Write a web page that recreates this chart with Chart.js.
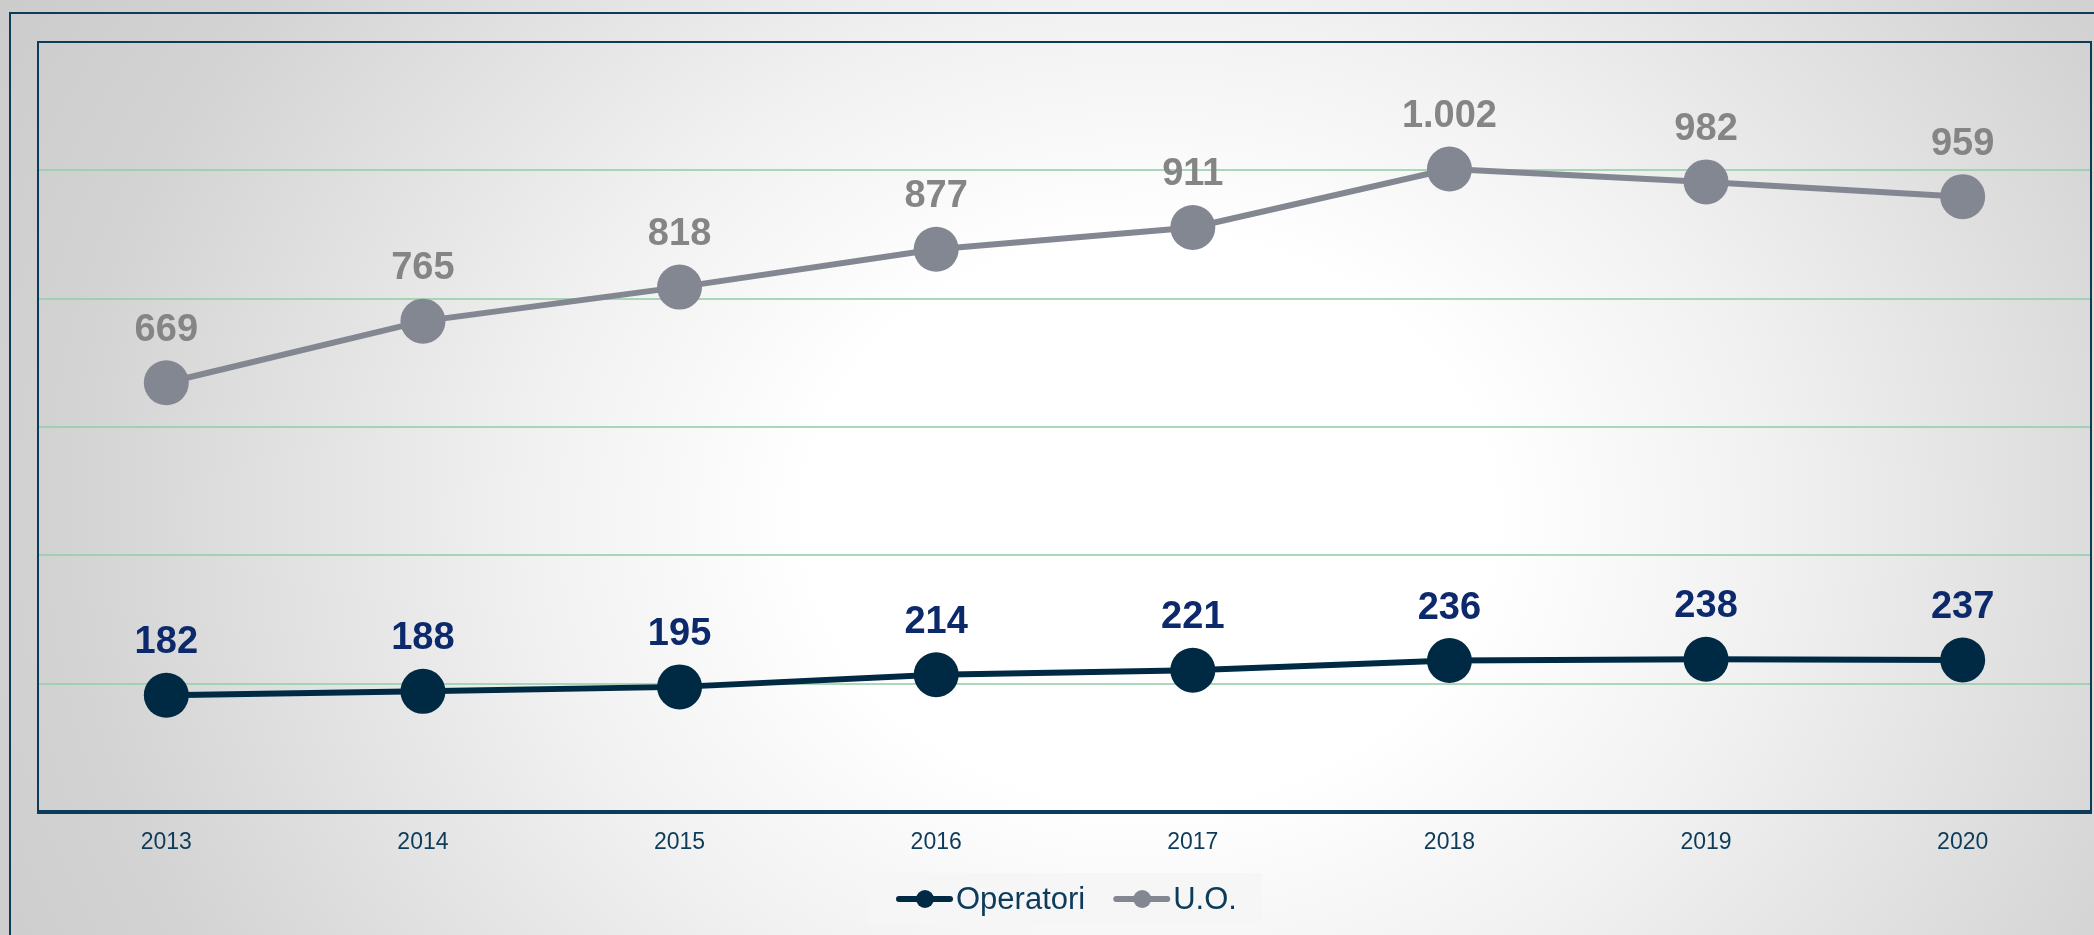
<!DOCTYPE html>
<html>
<head>
<meta charset="utf-8">
<script src="https://cdn.jsdelivr.net/npm/chart.js@4"></script>
<style>
  html, body { margin: 0; padding: 0; background: #ffffff; overflow: hidden; }
  #wrap { width: 2094px; height: 935px; position: relative; }
  canvas { display: block; }
</style>
</head>
<body>
<div id="wrap"><canvas id="chart" width="2094" height="935"></canvas></div>
<script>
const years = ['2013', '2014', '2015', '2016', '2017', '2018', '2019', '2020'];
const operatori = [182, 188, 195, 214, 221, 236, 238, 237];
const uo = [669, 765, 818, 877, 911, 1002, 982, 959];

const navy = '#002a44';
const frameColor = '#0d3b5a';

// numeri con punto delle migliaia (1.002)
function fmt(v) {
    return String(v).replace(/\B(?=(\d{3})+(?!\d))/g, '.');
}

// sfondo sfumato + cornici
const backgroundPlugin = {
    id: 'background',
    beforeDraw(chart) {
        const ctx = chart.ctx;
        const w = chart.width, h = chart.height;
        ctx.save();
        // sfumatura ellittica: centro chiaro, bordi grigi
        const cx = 1150, cy = 520, rx = 1150, ry = 950;
        ctx.save();
        ctx.translate(cx, cy);
        ctx.scale(rx, ry);
        const g = ctx.createRadialGradient(0, 0, 0, 0, 0, 1.35);
        g.addColorStop(0, '#ffffff');
        g.addColorStop(0.22, '#ffffff');
        g.addColorStop(0.40, '#f1f1f1');
        g.addColorStop(0.70, '#d3d3d3');
        g.addColorStop(1, '#c4c4c4');
        ctx.fillStyle = g;
        ctx.fillRect(-cx / rx, -cy / ry, w / rx, h / ry);
        ctx.restore();

        // cornice esterna
        ctx.strokeStyle = frameColor;
        ctx.lineWidth = 2;
        ctx.beginPath();
        ctx.moveTo(10, h + 5);
        ctx.lineTo(10, 13);
        ctx.lineTo(w + 5, 13);
        ctx.stroke();
        ctx.restore();
    },
    afterDraw(chart) {
        const ctx = chart.ctx;
        const a = chart.chartArea;
        ctx.save();
        ctx.strokeStyle = frameColor;
        ctx.lineWidth = 2;
        ctx.beginPath();
        ctx.moveTo(a.left, a.bottom);
        ctx.lineTo(a.left, a.top);
        ctx.lineTo(a.right, a.top);
        ctx.lineTo(a.right, a.bottom);
        ctx.stroke();
        ctx.lineWidth = 4;
        ctx.beginPath();
        ctx.moveTo(a.left - 1, a.bottom);
        ctx.lineTo(a.right + 1, a.bottom);
        ctx.stroke();
        ctx.restore();
    }
};

// etichette sopra i punti
const labelPlugin = {
    id: 'pointLabels',
    afterDatasetsDraw(chart) {
        const ctx = chart.ctx;
        ctx.save();
        ctx.font = 'bold 38px "Liberation Sans", Arial, sans-serif';
        ctx.textAlign = 'center';
        ctx.textBaseline = 'alphabetic';
        chart.data.datasets.forEach((ds, i) => {
            const meta = chart.getDatasetMeta(i);
            ctx.fillStyle = ds.labelColor;
            meta.data.forEach((pt, j) => {
                ctx.fillText(fmt(ds.data[j]), pt.x, pt.y - 42);
            });
        });
        ctx.restore();
    }
};

// legenda disegnata a mano
const legendPlugin = {
    id: 'customLegend',
    afterDraw(chart) {
        const ctx = chart.ctx;
        ctx.save();
        ctx.fillStyle = '#f6f6f6';
        ctx.fillRect(869, 873, 393, 51);
        ctx.font = '31px "Liberation Sans", Arial, sans-serif';
        ctx.textBaseline = 'middle';
        ctx.textAlign = 'left';
        const cy = 899;
        let x = 896;
        chart.data.datasets.forEach(ds => {
            ctx.strokeStyle = ds.borderColor;
            ctx.lineWidth = 6;
            ctx.lineCap = 'round';
            ctx.beginPath();
            ctx.moveTo(x + 3, cy);
            ctx.lineTo(x + 54, cy);
            ctx.stroke();
            ctx.fillStyle = ds.borderColor;
            ctx.beginPath();
            ctx.arc(x + 29, cy, 9, 0, Math.PI * 2);
            ctx.fill();
            ctx.fillStyle = frameColor;
            ctx.fillText(ds.label, x + 60, cy + 1);
            x += 60 + ctx.measureText(ds.label).width + 28;
        });
        ctx.restore();
    }
};

new Chart(document.getElementById('chart'), {
    type: 'line',
    data: {
        labels: years,
        datasets: [{
            label: 'Operatori',
            data: operatori,
            borderColor: navy,
            backgroundColor: navy,
            labelColor: '#0c2a6b',
            borderWidth: 6,
            pointRadius: 22.5,
            pointHoverRadius: 22.5,
            pointBorderWidth: 0,
            tension: 0
        }, {
            label: 'U.O.',
            data: uo,
            borderColor: '#838791',
            backgroundColor: '#838791',
            labelColor: '#858585',
            borderWidth: 6,
            pointRadius: 22.5,
            pointHoverRadius: 22.5,
            pointBorderWidth: 0,
            tension: 0
        }]
    },
    options: {
        responsive: false,
        animation: false,
        devicePixelRatio: 1,
        layout: {
            autoPadding: false,
            padding: { left: 38, top: 42, right: 3, bottom: 78 }
        },
        plugins: {
            legend: { display: false },
            tooltip: { enabled: false }
        },
        scales: {
            x: {
                offset: true,
                grid: { display: false, drawTicks: false },
                border: { display: false },
                ticks: {
                    color: frameColor,
                    padding: 17,
                    font: { family: '"Liberation Sans", Arial, sans-serif', size: 23 }
                },
                afterFit(scale) {
                    scale.paddingLeft = 0;
                    scale.paddingRight = 0;
                    scale.height = 45;
                }
            },
            y: {
                min: 0,
                max: 1200,
                ticks: { display: false, stepSize: 200 },
                border: { display: false },
                grid: {
                    drawTicks: false,
                    lineWidth: 2,
                    color: ctx => (ctx.tick.value === 0 || ctx.tick.value === 1200)
                        ? 'rgba(0,0,0,0)' : 'rgba(150,205,170,0.8)'
                },
                afterFit(scale) {
                    scale.width = 0;
                }
            }
        }
    },
    plugins: [backgroundPlugin, labelPlugin, legendPlugin]
});
</script>
</body>
</html>
